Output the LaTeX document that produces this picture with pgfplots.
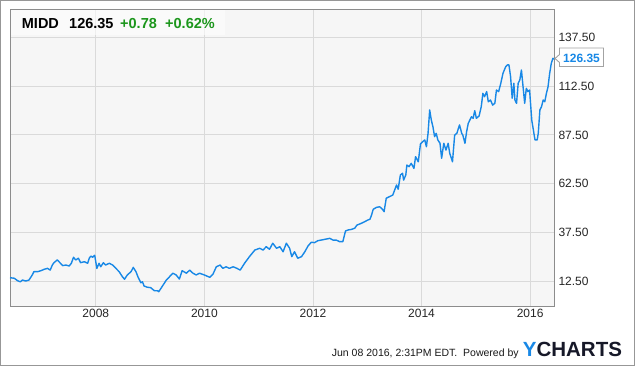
\documentclass[border=0pt]{standalone}
\usepackage{pgfplots}
\pgfplotsset{compat=1.18}
\usepackage{fontspec}
\setmainfont{Liberation Sans}
\definecolor{lineblue}{RGB}{24,136,230}
\definecolor{ygreen}{RGB}{28,150,28}
\definecolor{gridc}{RGB}{218,218,218}
\definecolor{framec}{RGB}{140,140,140}
\definecolor{bgc}{RGB}{246,246,246}
\definecolor{logodark}{RGB}{22,24,40}
\begin{document}
\begin{tikzpicture}[x=1bp,y=1bp]
\path[use as bounding box] (0,0) rectangle (635,366);
\fill[white] (0,0) rectangle (635,366);
\begin{axis}[
  at={(10bp,60bp)}, anchor=south west,
  width=544bp, height=296bp, scale only axis,
  xmin=2006.42, xmax=2016.44, ymin=-0.33, ymax=151.6,
  axis background/.style={fill=bgc},
  xtick={2008,2010,2012,2014,2016},
  xticklabels={2008,2010,2012,2014,2016},
  ytick={12.5,37.5,62.5,87.5,112.5,137.5},
  yticklabels={12.50,37.50,62.50,87.50,112.50,137.50},
  yticklabel pos=right,
  major tick length=0pt,
  grid=major,
  major grid style={gridc, line width=0.9bp},
  axis line style={framec, line width=1bp},
  tick label style={font=\fontsize{12bp}{14bp}\selectfont, text=black!85},
  yticklabel style={xshift=1bp},
  clip=false,
]
\addplot[lineblue, line width=1.4bp, line join=round] coordinates {
(2006.42,14.2)(2006.50,13.9)(2006.56,12.65)(2006.61,12.1)(2006.65,13.0)(2006.71,12.5)(2006.77,13.0)(2006.83,15.6)(2006.86,17.3)(2006.93,17.3)
(2006.99,17.8)(2007.05,18.5)(2007.11,19.0)(2007.16,18.1)(2007.20,20.7)(2007.23,21.9)(2007.29,23.3)(2007.34,21.9)(2007.39,20.4)(2007.45,20.7)
(2007.51,20.2)(2007.55,21.6)(2007.59,24.7)(2007.63,23.3)(2007.68,24.2)(2007.72,21.9)(2007.79,22.4)(2007.85,21.6)(2007.88,24.2)(2007.91,25.3)
(2007.94,24.7)(2007.98,25.7)(2008.02,19.0)(2008.06,21.6)(2008.09,19.8)(2008.14,21.9)(2008.18,20.7)(2008.25,21.6)(2008.31,20.7)(2008.37,19.0)
(2008.43,17.3)(2008.49,14.7)(2008.53,13.4)(2008.58,15.6)(2008.65,17.3)(2008.69,19.5)(2008.74,17.3)(2008.78,14.4)(2008.83,11.6)(2008.86,12.1)
(2008.89,9.9)(2008.95,9.3)(2009.01,9.1)(2009.08,7.5)(2009.14,7.5)(2009.16,7.0)(2009.30,13.0)(2009.42,16.5)(2009.48,15.6)(2009.54,13.5)
(2009.59,17.8)(2009.67,16.5)(2009.73,18.1)(2009.79,16.5)(2009.85,15.6)(2009.91,16.5)(2010.00,15.6)(2010.10,14.4)(2010.16,16.1)(2010.22,19.8)
(2010.29,20.7)(2010.34,19.0)(2010.40,19.8)(2010.46,19.0)(2010.53,19.8)(2010.60,19.0)(2010.66,18.1)(2010.74,21.6)(2010.83,25.0)(2010.93,28.4)
(2011.02,29.3)(2011.08,28.4)(2011.14,30.1)(2011.20,28.8)(2011.26,31.9)(2011.33,29.3)(2011.39,30.1)(2011.45,27.5)(2011.51,31.9)(2011.57,29.3)
(2011.61,25.0)(2011.66,27.5)(2011.72,24.2)(2011.79,25.0)(2011.85,27.5)(2011.91,30.5)(2011.97,32.4)(2012.03,32.2)(2012.09,33.2)(2012.15,33.5)
(2012.22,33.9)(2012.31,34.4)(2012.37,33.5)(2012.43,33.5)(2012.49,32.7)(2012.55,32.7)(2012.60,38.2)(2012.65,38.7)(2012.71,39.0)(2012.77,39.6)
(2012.81,41.2)(2012.89,42.1)(2012.95,42.9)(2013.01,43.8)(2013.05,44.2)(2013.08,46.4)(2013.11,49.3)(2013.17,50.3)(2013.23,50.6)(2013.28,49.3)
(2013.31,48.1)(2013.35,55.0)(2013.41,55.8)(2013.47,56.6)(2013.54,61.8)(2013.57,59.6)(2013.61,66.9)(2013.65,67.8)(2013.67,64.3)(2013.71,66.9)
(2013.73,72.0)(2013.77,71.2)(2013.81,72.9)(2013.86,70.3)(2013.89,76.3)(2013.94,73.7)(2013.98,82.8)(2014.02,84.0)(2014.06,84.9)(2014.09,81.4)
(2014.12,88.3)(2014.15,100.3)(2014.18,95.1)(2014.21,91.7)(2014.24,86.6)(2014.27,88.3)(2014.30,84.9)(2014.34,83.2)(2014.37,75.5)(2014.41,83.2)
(2014.45,79.7)(2014.49,83.2)(2014.52,78.0)(2014.57,73.7)(2014.61,87.4)(2014.65,88.3)(2014.70,92.6)(2014.74,88.3)(2014.76,87.4)(2014.80,83.2)
(2014.83,89.1)(2014.86,93.4)(2014.89,95.1)(2014.92,96.8)(2014.95,96.0)(2014.98,99.9)(2015.01,96.0)(2015.06,97.2)(2015.10,102.0)(2015.13,108.8)
(2015.16,107.1)(2015.20,109.7)(2015.23,104.5)(2015.27,105.4)(2015.31,102.8)(2015.35,103.7)(2015.38,110.5)(2015.42,109.7)(2015.46,114.0)(2015.50,119.1)
(2015.55,122.5)(2015.58,123.4)(2015.61,123.4)(2015.64,117.4)(2015.67,106.3)(2015.70,114.0)(2015.72,105.4)(2015.75,103.7)(2015.78,114.0)(2015.81,115.7)
(2015.84,120.8)(2015.87,112.2)(2015.90,103.7)(2015.93,111.4)(2015.96,109.7)(2015.99,110.5)(2016.03,95.1)(2016.06,90.0)(2016.09,84.9)(2016.13,84.9)
(2016.15,88.3)(2016.18,100.3)(2016.21,102.0)(2016.24,105.4)(2016.27,104.5)(2016.30,108.8)(2016.33,112.2)(2016.36,119.1)(2016.39,124.2)(2016.42,126.8)
(2016.44,126.35)
};
\end{axis}
% header box
\fill[white, opacity=0.55] (10.5,331) rectangle (225,355.5);
\node[anchor=base west, inner sep=0, font=\fontsize{14.5bp}{16bp}\selectfont\bfseries] at (21.7,338) {MIDD};
\node[anchor=base west, inner sep=0, font=\fontsize{14.5bp}{16bp}\selectfont\bfseries] at (69,338) {126.35};
\node[anchor=base west, inner sep=0, text=ygreen, font=\fontsize{14.5bp}{16bp}\selectfont\bfseries] at (120,338) {+0.78};
\node[anchor=base west, inner sep=0, text=ygreen, font=\fontsize{14.5bp}{16bp}\selectfont\bfseries] at (165,338) {+0.62\%};
% callout
\filldraw[fill=white, draw=framec!80, line width=0.9bp] (559.5,318) -- (603.5,318) -- (603.5,299.5) -- (559.5,299.5) -- (559.5,303.5) -- (555,307.5) -- (559.5,311.5) -- cycle;
\node[anchor=base west, inner sep=0, text=lineblue, font=\fontsize{12bp}{14bp}\selectfont\bfseries] at (563,303.5) {126.35};
% footer
\node[anchor=base west, inner sep=0, text=black!90, font=\fontsize{10.5bp}{12bp}\selectfont] at (331.7,9.3) {Jun 08 2016, 2:31PM EDT.\ \ Powered by};
\node[anchor=base west, inner sep=0, font=\fontsize{20.5bp}{22bp}\selectfont\bfseries] at (522.7,9.3) {\textcolor{lineblue}{Y}\textcolor{logodark}{CHARTS}};
% outer frame
\draw[framec!90, line width=1.2bp] (0.6,0.6) rectangle (634.4,365.4);
\end{tikzpicture}
\end{document}
